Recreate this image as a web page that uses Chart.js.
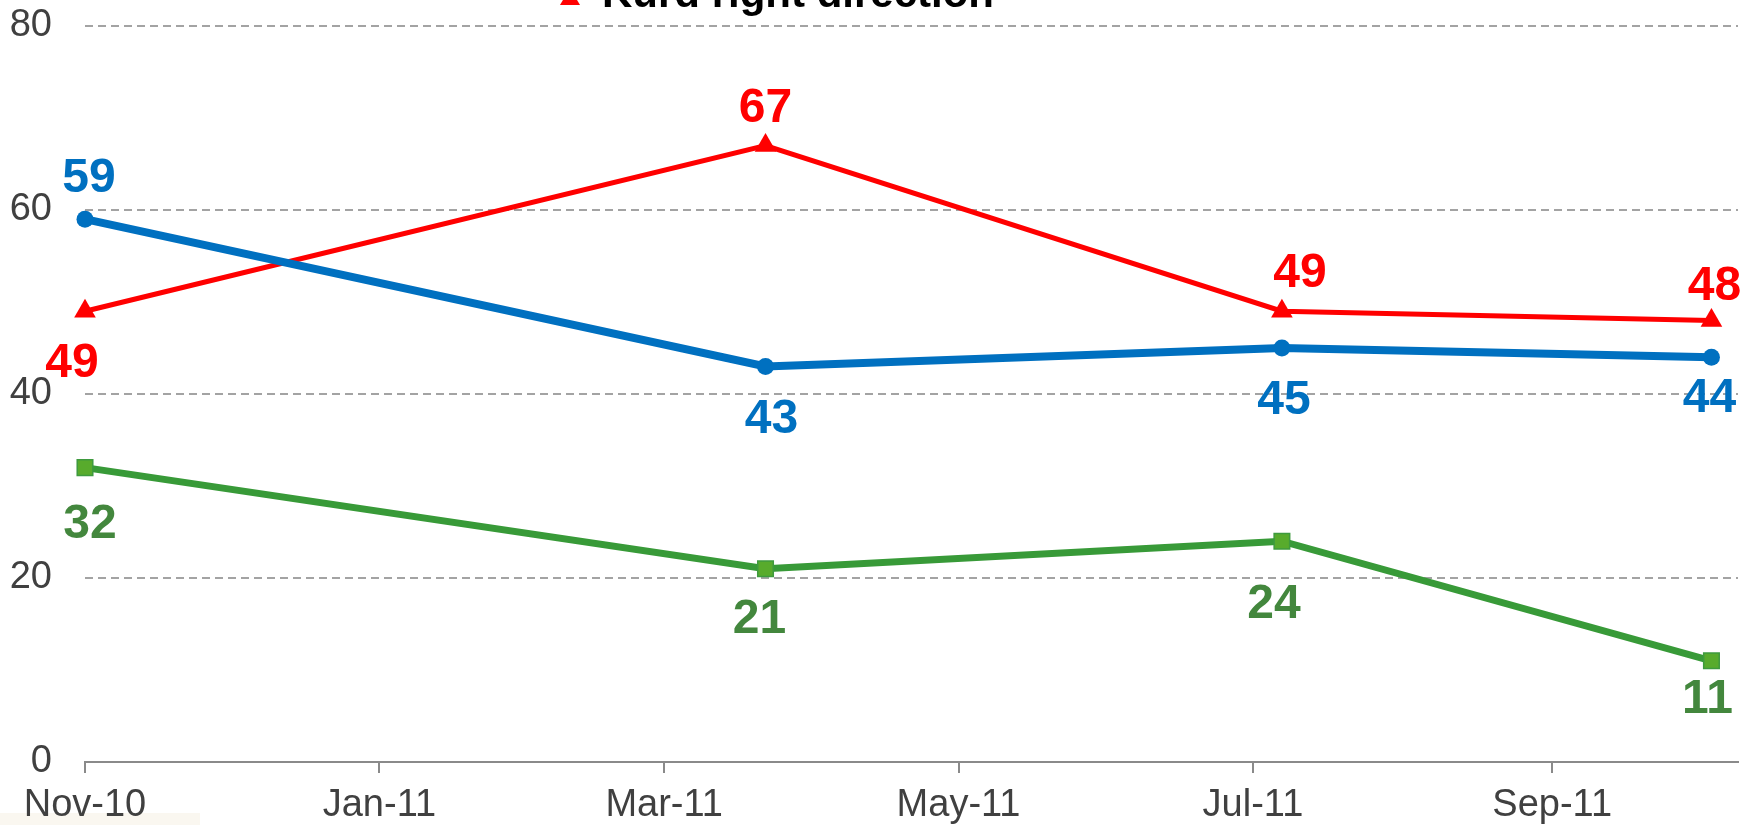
<!DOCTYPE html>
<html>
<head>
<meta charset="utf-8">
<script src="https://cdn.jsdelivr.net/npm/chart.js@4"></script>
<style>
  html, body { margin: 0; padding: 0; background: #fff; overflow: hidden; }
  #wrap { position: relative; width: 1754px; height: 825px; }
</style>
</head>
<body>
<div id="wrap"><canvas id="pollChart"></canvas></div>
<script>
// survey dates and values
const surveyDates = ['2010-11-01', '2011-03-22', '2011-07-07', '2011-10-04'];
const blueValues = [59, 43, 45, 44];
const redValues = [49, 67, 49, 48];
const greenValues = [32, 21, 24, 11];

// x axis ticks (every two months)
const tickDates = ['2010-11-01', '2011-01-01', '2011-03-01', '2011-05-01', '2011-07-01', '2011-09-01'];
const tickLabels = ['Nov-10', 'Jan-11', 'Mar-11', 'May-11', 'Jul-11', 'Sep-11'];
const yTicks = [0, 20, 40, 60, 80];

const seriesNames = ['Series 1', 'Kurd right direction', 'Series 3'];

const dayMs = 86400000;
const base = Date.parse(tickDates[0]);
const toDay = d => (Date.parse(d) - base) / dayMs;
const tickDays = tickDates.map(toDay);

const pts = vals => vals.map((v, i) => ({ x: toDay(surveyDates[i]), y: v }));

// label offsets from each marker (px), style only
const labelOffsets = [
  [[4, -44], [6, 50], [2, 49], [-2, 38]],
  [[-13, 49], [0, -41], [18, -41], [3, -37]],
  [[5, 53], [-6, 47], [-8, 60], [-4, 35]]
];
const labelColors = ['#0070C0', '#FF0000', '#43873D'];

const valueLabels = {
  id: 'valueLabels',
  afterDatasetsDraw(chart) {
    const ctx = chart.ctx;
    ctx.save();
    ctx.font = 'bold 48px "Liberation Sans", Arial, sans-serif';
    ctx.textAlign = 'center';
    ctx.textBaseline = 'alphabetic';
    chart.data.datasets.forEach((ds, di) => {
      const meta = chart.getDatasetMeta(di);
      meta.data.forEach((p, i) => {
        const off = labelOffsets[di][i];
        ctx.fillStyle = labelColors[di];
        ctx.fillText(String(ds.data[i].y), p.x + off[0], p.y + off[1] + 17);
      });
    });
    ctx.restore();
  }
};

// top legend entry, mostly cut off by the picture edge
const topLegend = {
  id: 'topLegend',
  beforeDraw(chart) {
    // pale strip at bottom left, behind the axis text
    const ctx = chart.ctx;
    ctx.save();
    ctx.fillStyle = '#FAF7F0';
    ctx.fillRect(0, 813, 200, 12);
    ctx.restore();
  },
  afterDraw(chart) {
    const ctx = chart.ctx;
    ctx.save();
    ctx.fillStyle = '#FF0000';
    ctx.beginPath();
    ctx.moveTo(570, -12);
    ctx.lineTo(580, 5);
    ctx.lineTo(560, 5);
    ctx.closePath();
    ctx.fill();
    ctx.fillStyle = '#000';
    ctx.font = 'bold 42px "Liberation Sans", Arial, sans-serif';
    ctx.textAlign = 'left';
    ctx.textBaseline = 'alphabetic';
    ctx.fillText(chart.data.datasets[1].label, 602, 7);
    ctx.restore();
  }
};

const ctx = document.getElementById('pollChart').getContext('2d');
const pollChart = new Chart(ctx, {
  type: 'line',
  data: {
    datasets: [
      {
        label: seriesNames[0],
        data: pts(blueValues),
        borderColor: '#0070C0',
        backgroundColor: '#0070C0',
        borderWidth: 8,
        pointStyle: 'circle',
        pointRadius: 8.5,
        pointBorderWidth: 0,
        clip: false
      },
      {
        label: seriesNames[1],
        data: pts(redValues),
        borderColor: '#FF0000',
        backgroundColor: '#FF0000',
        borderWidth: 5,
        pointStyle: 'triangle',
        pointRadius: 12.5,
        pointBorderWidth: 0,
        clip: false
      },
      {
        label: seriesNames[2],
        data: pts(greenValues),
        borderColor: '#389A38',
        backgroundColor: '#58AB2C',
        pointBorderColor: '#3E9A3E',
        borderWidth: 7,
        pointStyle: 'rect',
        pointRadius: 11,
        pointBorderWidth: 1.5,
        clip: false
      }
    ]
  },
  options: {
    responsive: true,
    maintainAspectRatio: false,
    animation: false,
    layout: { padding: { top: 26, right: 16, left: 0, bottom: 0 } },
    plugins: {
      legend: { display: false },
      tooltip: { enabled: false }
    },
    elements: { line: { tension: 0 } },
    scales: {
      x: {
        type: 'linear',
        min: 0,
        max: 342.5,
        afterBuildTicks: scale => { scale.ticks = tickDays.map(v => ({ value: v })); },
        afterFit: scale => { scale.height = 63; },
        ticks: {
          autoSkip: false,
          maxRotation: 0,
          padding: 10,
          color: '#404040',
          font: { family: '"Liberation Sans", Arial, sans-serif', size: 38 },
          callback: v => tickLabels[tickDays.indexOf(v)]
        },
        grid: {
          drawOnChartArea: false,
          drawTicks: true,
          tickLength: 11,
          color: '#8A8A8A',
          lineWidth: 2
        },
        border: { display: true, color: '#8A8A8A', width: 2 }
      },
      y: {
        min: 0,
        max: 80,
        afterBuildTicks: scale => { scale.ticks = yTicks.map(v => ({ value: v })); },
        afterFit: scale => {
          scale.width = 85;
          scale.paddingTop = 0;
          scale.paddingBottom = 0;
        },
        ticks: {
          padding: 33,
          color: '#404040',
          font: { family: '"Liberation Sans", Arial, sans-serif', size: 38 }
        },
        grid: {
          drawTicks: false,
          lineWidth: 2,
          color: c => c.tick && c.tick.value === 0 ? 'rgba(0,0,0,0)' : '#A3A3A3'
        },
        border: { display: false, dash: [8, 5] }
      }
    }
  },
  plugins: [valueLabels, topLegend]
});
</script>
</body>
</html>
